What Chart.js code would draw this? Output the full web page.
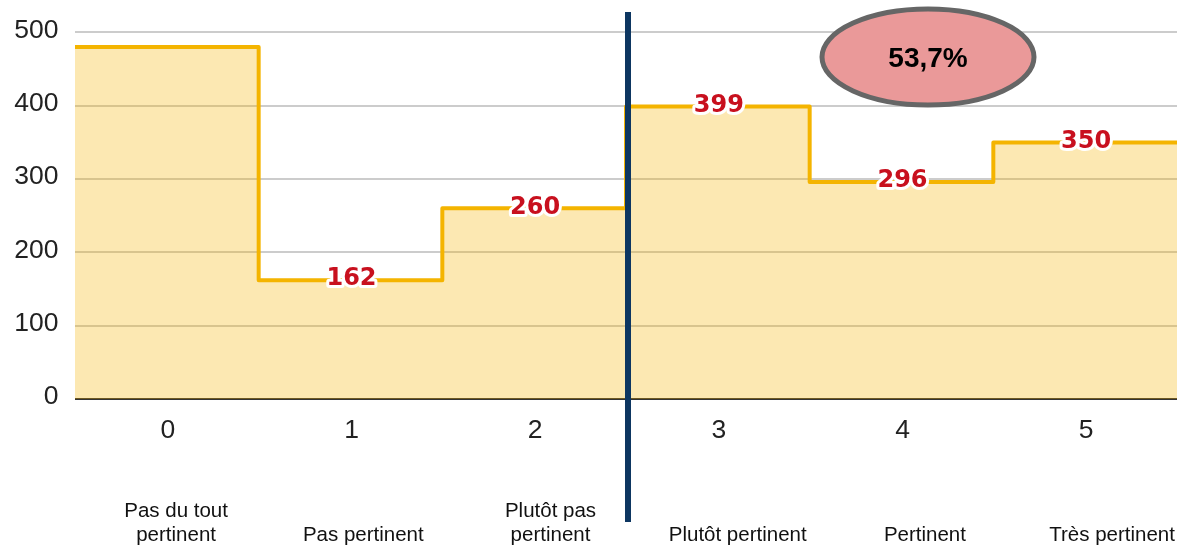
<!DOCTYPE html>
<html>
<head>
<meta charset="utf-8">
<script src="https://cdn.jsdelivr.net/npm/chart.js@4.4.1/dist/chart.umd.min.js"></script>
<style>
  html, body { margin: 0; padding: 0; background: #fff; }
  canvas { display: block; }
</style>
</head>
<body>
<canvas id="chartPertinence" width="1182" height="550"></canvas>
<script>
// score categories 0..5 and number of answers for each
const scores = [0, 1, 2, 3, 4, 5];
const answers = [480, 162, 260, 399, 296, 350];
const categoryNames = [
  ["Pas du tout", "pertinent"],
  ["Pas pertinent"],
  ["Plutôt pas", "pertinent"],
  ["Plutôt pertinent"],
  ["Pertinent"],
  ["Très pertinent"],
];
const yTicks = [0, 100, 200, 300, 400, 500];
const shareLabel = "53,7%";

// each step spans a whole category: points sit on the category edges
const stepPoints = answers.map((v, i) => ({ x: scores[i] - 0.5, y: v }));
stepPoints.push({ x: scores[scores.length - 1] + 0.5, y: answers[answers.length - 1] });

const FONT = "'Liberation Sans', Arial, sans-serif";

// red counts on the line (first category left without label)
const valueLabels = {
  id: "valueLabels",
  afterDatasetsDraw(chart) {
    const { ctx, scales } = chart;
    ctx.save();
    ctx.font = "bold 24px 'DejaVu Sans', sans-serif";
    ctx.textAlign = "center";
    ctx.textBaseline = "middle";
    ctx.lineJoin = "round";
    for (let i = 1; i < answers.length; i++) {
      const x = scales.x.getPixelForValue(scores[i]) + 1;
      const y = scales.y.getPixelForValue(answers[i]) - 1;
      ctx.lineWidth = 6;
      ctx.strokeStyle = "#fff";
      ctx.strokeText(String(answers[i]), x, y);
      ctx.fillStyle = "#c8101e";
      ctx.fillText(String(answers[i]), x, y);
    }
    ctx.restore();
  },
};

// divider between negative and positive answers, share bubble, names row
const extras = {
  id: "extras",
  afterDraw(chart) {
    const { ctx, scales } = chart;
    ctx.save();

    const dx = scales.x.getPixelForValue(2.5) + 2;
    ctx.strokeStyle = "#0d3661";
    ctx.lineWidth = 6;
    ctx.beginPath();
    ctx.moveTo(dx, 12);
    ctx.lineTo(dx, 522);
    ctx.stroke();

    ctx.beginPath();
    ctx.ellipse(928, 57, 106, 48, 0, 0, Math.PI * 2);
    ctx.fillStyle = "#ea9999";
    ctx.fill();
    ctx.lineWidth = 5;
    ctx.strokeStyle = "#666";
    ctx.stroke();
    ctx.fillStyle = "#000";
    ctx.font = "bold 28px " + FONT;
    ctx.textAlign = "center";
    ctx.textBaseline = "middle";
    ctx.fillText(shareLabel, 928, 59);

    ctx.font = "20.5px " + FONT;
    ctx.textBaseline = "alphabetic";
    ctx.fillStyle = "#111";
    const rowLeft = 82.5, cell = 187.2;
    categoryNames.forEach((lines, i) => {
      const cx = rowLeft + cell * (i + 0.5);
      lines.slice().reverse().forEach((t, k) => {
        ctx.fillText(t, cx, 541 - k * 24.5);
      });
    });
    ctx.restore();
  },
};

new Chart(document.getElementById("chartPertinence"), {
  type: "line",
  data: {
    datasets: [
      {
        data: stepPoints,
        stepped: "before",
        borderColor: "#f4b400",
        borderWidth: 4,
        borderJoinStyle: "round",
        backgroundColor: "rgba(244, 180, 0, 0.3)",
        fill: "origin",
        pointRadius: 0,
      },
    ],
  },
  options: {
    responsive: false,
    devicePixelRatio: 1,
    animation: false,
    layout: { padding: { top: 32, right: 5, left: 0, bottom: 0 } },
    plugins: { legend: { display: false }, tooltip: { enabled: false } },
    scales: {
      x: {
        type: "linear",
        min: -0.5,
        max: 5.5,
        afterBuildTicks: (s) => { s.ticks = scores.map((v) => ({ value: v })); },
        afterFit: (s) => { s.height = 151; },
        grid: { display: false, drawTicks: false },
        border: { display: false },
        ticks: { color: "#222", padding: 16, labelOffset: 1, font: { family: FONT, size: 26.5 } },
      },
      y: {
        min: 0,
        max: 500,
        afterBuildTicks: (s) => { s.ticks = yTicks.map((v) => ({ value: v })); },
        afterFit: (s) => { s.width = 75; },
        grid: {
          drawTicks: false,
          color: (c) => (c.tick && c.tick.value === 0 ? "#333" : "#cccccc"),
          lineWidth: 2,
        },
        border: { display: false },
        ticks: { color: "#222", padding: 16.5, labelOffset: -2, font: { family: FONT, size: 26.5 } },
      },
    },
  },
  plugins: [valueLabels, extras],
});
</script>
</body>
</html>
